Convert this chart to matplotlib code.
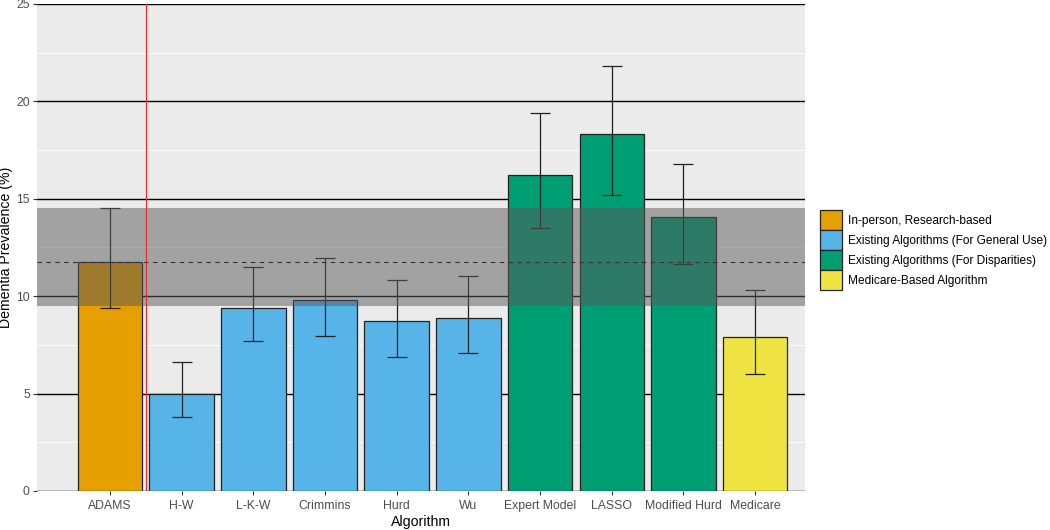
import matplotlib
matplotlib.use("Agg")
import matplotlib.pyplot as plt
from matplotlib.patches import Patch

plt.rcParams['font.family'] = ['Liberation Sans', 'DejaVu Sans']

algorithms = ["ADAMS", "H-W", "L-K-W", "Crimmins", "Hurd", "Wu",
              "Expert Model", "LASSO", "Modified Hurd", "Medicare"]
prevalence = [11.75, 5.0, 9.4, 9.8, 8.7, 8.9, 16.2, 18.3, 14.05, 7.9]
ci_low = [9.4, 3.8, 7.7, 7.95, 6.9, 7.1, 13.5, 15.2, 11.65, 6.0]
ci_high = [14.5, 6.6, 11.5, 11.95, 10.85, 11.05, 19.4, 21.8, 16.8, 10.3]
groups = [0, 1, 1, 1, 1, 1, 2, 2, 2, 3]
group_names = ["In-person, Research-based",
               "Existing Algorithms (For General Use)",
               "Existing Algorithms (For Disparities)",
               "Medicare-Based Algorithm"]
group_colors = ["#E69F00", "#56B4E9", "#009E73", "#F0E442"]

# ADAMS reference band and estimate
band_low, band_high = 9.5, 14.5
ref_value = 11.75

fig = plt.figure(figsize=(10.5, 5.3), dpi=100)
ax = fig.add_axes([0.035, 0.0736, 0.732, 0.919])
ax.set_facecolor("#EBEBEB")

xs = list(range(len(algorithms)))

# gridlines
for y in [2.5, 7.5, 12.5, 17.5, 22.5]:
    ax.axhline(y, color="white", lw=0.6, zorder=0.5)
for y in [0, 5, 10, 15, 20, 25]:
    ax.axhline(y, color="black", lw=1.0, zorder=0.6)

ax.bar(xs, prevalence, width=0.9, color=[group_colors[g] for g in groups],
       edgecolor="#222222", linewidth=0.9, zorder=2)

low_err = [p - l for p, l in zip(prevalence, ci_low)]
high_err = [h - p for p, h in zip(prevalence, ci_high)]
ax.errorbar(xs, prevalence, yerr=[low_err, high_err], fmt="none",
            ecolor="#222222", elinewidth=0.9, capsize=7.5, capthick=0.9, zorder=3)

ax.axhspan(band_low, band_high, color="#5A5A5A", alpha=0.5, lw=0, zorder=4)
ax.axhline(ref_value, color="#333333", lw=0.8, ls=(0, (4, 4)), zorder=5)
ax.axvline(0.5, color="#E03030", lw=0.9, zorder=6)

ax.set_xlim(-1.02, 9.7)
ax.set_ylim(0, 25)
ax.set_xticks(xs)
ax.set_xticklabels(algorithms)
ax.set_yticks([0, 5, 10, 15, 20, 25])
ax.tick_params(axis="both", colors="#333333", labelcolor="#4D4D4D",
               labelsize=8.8, length=3, width=0.8)
ax.tick_params(axis="y", pad=2)
for s in ax.spines.values():
    s.set_visible(False)
ax.set_xlabel("Algorithm", fontsize=10.2, color="black", labelpad=2)
ax.set_ylabel("Dementia Prevalence (%)", fontsize=10.2, color="black")
ax.yaxis.set_label_coords(-0.031, 0.5)

handles = [Patch(facecolor=c, edgecolor="#222222", linewidth=0.9, label=n)
           for c, n in zip(group_colors, group_names)]
fig.legend(handles=handles, loc="center left", bbox_to_anchor=(0.776, 0.528),
           frameon=False, fontsize=8.6, handlelength=1.85, handleheight=2.2,
           handletextpad=0.55, labelspacing=0.0, borderaxespad=0)

fig.savefig("out.png", dpi=100)
